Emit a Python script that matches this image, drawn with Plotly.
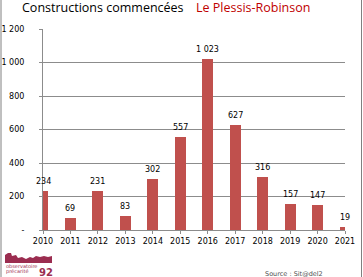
import plotly.graph_objects as go

years = [2010, 2011, 2012, 2013, 2014, 2015, 2016, 2017, 2018, 2019, 2020, 2021]
values = [234, 69, 231, 83, 302, 557, 1023, 627, 316, 157, 147, 19]
y_ticks = [0, 200, 400, 600, 800, 1000, 1200]
y_ticktext = ["-", "200", "400", "600", "800", "1 000", "1 200"]
title_left = "Constructions commencées"
title_right = "Le Plessis-Robinson"
source_text = "Source : Sit@del2"

W, H = 363, 277
L, R, T, B = 43, 18, 29, 47
PW, PH = W - L - R, H - T - B


def px(x):
    return (x - L) / PW


def py(y):
    return (H - B - y) / PH


def fmt(v):
    return f"{v:,}".replace(",", " ")


FONT = "DejaVu Sans"
BAR = "#C0504D"
GRID = "#8C8C8C"

fig = go.Figure()
fig.add_trace(go.Bar(x=years, y=values, width=0.4, marker=dict(color=BAR, line=dict(width=0)),
                     hoverinfo="skip"))

annotations = []
for x, v in zip(years, values):
    annotations.append(dict(x=x, y=v, xref="x", yref="y", text=fmt(v), showarrow=False,
                            yanchor="bottom", xanchor="center", yshift=3,
                            font=dict(family=FONT, size=8, color="#000000")))

annotations.append(dict(x=px(20), y=py(8), xref="paper", yref="paper", text=title_left,
                        showarrow=False, xanchor="left", yanchor="middle",
                        font=dict(family="Open Sans", size=12.5, color="#000000")))
annotations.append(dict(x=px(194), y=py(8), xref="paper", yref="paper", text=title_right,
                        showarrow=False, xanchor="left", yanchor="middle",
                        font=dict(family="Open Sans", size=12.5, color="#C00000")))
annotations.append(dict(x=px(263), y=py(274), xref="paper", yref="paper", text=source_text,
                        showarrow=False, xanchor="left", yanchor="middle",
                        font=dict(family=FONT, size=6.5, color="#505050")))
# logo texts
LOGO = "#9B2D50"
annotations.append(dict(x=px(4), y=py(265.5), xref="paper", yref="paper", text="observatoire",
                        showarrow=False, xanchor="left", yanchor="middle",
                        font=dict(family=FONT, size=5, color=LOGO)))
annotations.append(dict(x=px(4), y=py(271.5), xref="paper", yref="paper", text="précarité",
                        showarrow=False, xanchor="left", yanchor="middle",
                        font=dict(family=FONT, size=5, color=LOGO)))
annotations.append(dict(x=px(37), y=py(272.5), xref="paper", yref="paper", text="<b>92</b>",
                        showarrow=False, xanchor="left", yanchor="middle",
                        font=dict(family=FONT, size=10, color=LOGO)))

shapes = []
# frame lines left/right
shapes.append(dict(type="line", xref="paper", yref="paper", x0=px(1), x1=px(1), y0=py(0), y1=py(277),
                   line=dict(color="#808080", width=1)))
shapes.append(dict(type="line", xref="paper", yref="paper", x0=px(361.5), x1=px(361.5), y0=py(0), y1=py(277),
                   line=dict(color="#808080", width=1)))
# logo skyline
pts = [(5, 263), (5, 255), (8, 253), (11, 253), (12, 256), (16, 255), (18, 258), (22, 257), (26, 259),
       (30, 257), (33, 258), (36, 256), (40, 257), (44, 256), (48, 257), (52, 256), (52, 263)]
path = "M " + " L ".join(f"{px(a):.5f},{py(b):.5f}" for a, b in pts) + " Z"
shapes.append(dict(type="path", xref="paper", yref="paper", path=path,
                   fillcolor=LOGO, line=dict(width=0)))

fig.update_layout(
    width=W, height=H,
    margin=dict(l=L, r=R, t=T, b=B, autoexpand=False),
    paper_bgcolor="white", plot_bgcolor="white",
    showlegend=False,
    bargap=0,
    annotations=annotations,
    shapes=shapes,
    xaxis=dict(range=[2010, 2021], tickmode="array", tickvals=years, ticktext=[str(y) for y in years],
               showgrid=False, showline=True, linecolor=GRID, linewidth=1,
               ticks="outside", ticklen=3, tickcolor=GRID, zeroline=False, automargin=False,
               tickfont=dict(family=FONT, size=8, color="#000000")),
    yaxis=dict(range=[0, 1200], tickmode="array", tickvals=y_ticks, ticktext=y_ticktext,
               showgrid=True, gridcolor=GRID, gridwidth=1,
               showline=True, linecolor=GRID, linewidth=1,
               ticks="outside", ticklen=3, tickcolor=GRID, zeroline=False, automargin=False,
               ticklabelstandoff=13,
               tickfont=dict(family=FONT, size=8, color="#000000")),
)

fig.write_html("out.html")
